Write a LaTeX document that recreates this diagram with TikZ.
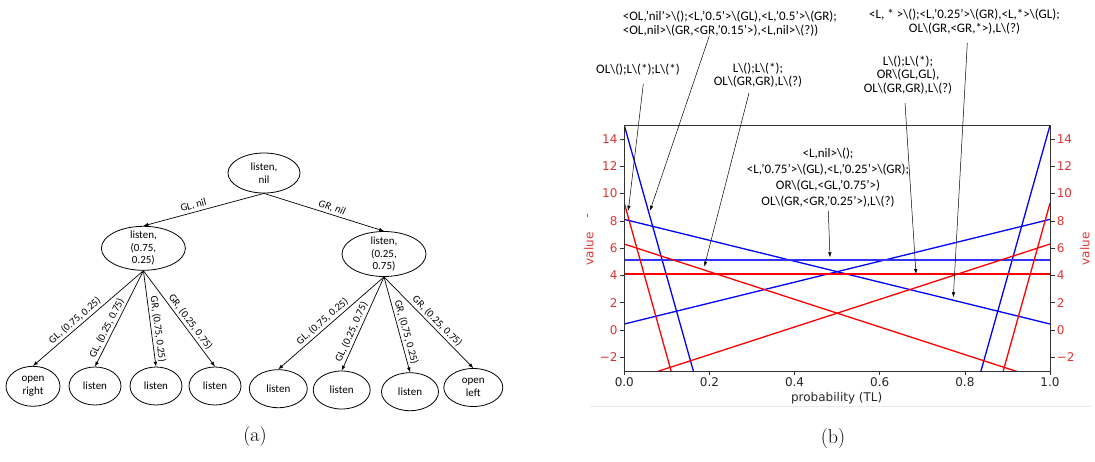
\documentclass[tikz,border=0pt]{standalone}
\usepackage{fontspec}
\usepackage{tikz}
\usepackage{xcolor}
\usetikzlibrary{shapes.geometric, arrows.meta}

\newfontfamily\treefont{Carlito}
\newfontfamily\plotfont{DejaVu Sans}
\newcommand{\bsl}{\textbackslash}
\definecolor{axisred}{RGB}{222,52,52}
\definecolor{axisgray}{RGB}{50,50,50}

\begin{document}
\begin{tikzpicture}[
        x=1pt, y=-1pt,
        declare function={
            probX(\p) = 624.3 + 425.7*\p;
            valY(\v) = 330 - 13.64*\v;
            openB(\x) = 15 - 111*\x;
            listenB(\x) = 8.11 - 7.67*\x;
            openR(\x) = 9.3 - 112*\x;
            listenR(\x) = 6.3 - 10.13*\x;
        },
        state/.style={ellipse, draw, line width=0.8pt, inner sep=-2pt, align=center,
            font=\treefont\fontsize{11}{12.5}\selectfont},
        leaf/.style={state, minimum width=52pt, minimum height=38pt},
        treearrow/.style={-latex, line width=0.7pt},
        elabel/.style={font=\treefont\fontsize{10.5}{12}\selectfont, sloped, above, pos=0.58, inner sep=2pt},
        note/.style={font=\treefont\fontsize{13}{13.5}\selectfont, align=center, inner sep=0pt},
        pointer/.style={-{Latex[length=5pt,width=3.5pt]}, line width=0.5pt},
        ticklabel/.style={font=\plotfont\fontsize{12}{13}\selectfont, inner sep=2pt},
        vline/.style={line width=1.3pt},
        caption/.style={font=\fontsize{20}{24}\selectfont},
    ]
    \useasboundingbox (0,0) rectangle (1095,461);

    % (a) the policy tree
    \node[state, minimum width=72pt, minimum height=40pt] (root) at (264,173) {listen,\\nil};
    \node[state, minimum width=84pt, minimum height=44pt] (lmid) at (143.4,248.3) {listen,\\(0.75,\\0.25)};
    \node[state, minimum width=84pt, minimum height=45pt] (rmid) at (384,254) {listen,\\(0.25,\\0.75)};

    \node[leaf, minimum width=54pt, minimum height=40pt] (l1) at (33,386.3) {open\\right};
    \node[leaf] (l2) at (95,386) {listen};
    \node[leaf] (l3) at (156,386) {listen};
    \node[leaf] (l4) at (215,386) {listen};
    \node[leaf, minimum width=58pt] (r1) at (278.3,388.7) {listen};
    \node[leaf, minimum width=57pt] (r2) at (341.7,390) {listen};
    \node[leaf, minimum width=57pt] (r3) at (410,391.7) {listen};
    \node[leaf, minimum width=59pt] (r4) at (473.3,387.5) {open\\left};

    \draw[treearrow] (root.south) -- node[elabel, pos=0.57] {GL, nil} (lmid.north);
    \draw[treearrow] (root.south) -- node[elabel, pos=0.55] {\itshape GR, nil} (rmid.north);

    \draw[treearrow] (lmid.south) -- node[elabel] {GL, (0.75, 0.25)} (l1.north);
    \draw[treearrow] (lmid.south) -- node[elabel, pos=0.63] {GL, (0.25, 0.75)} (l2.north);
    \draw[treearrow] (lmid.south) -- node[elabel, pos=0.62] {GR, (0.75, 0.25)} (l3.north);
    \draw[treearrow] (lmid.south) -- node[elabel] {GR, (0.25, 0.75)} (l4.north);

    \draw[treearrow] (rmid.south) -- node[elabel, pos=0.54] {GL, (0.75, 0.25)} (r1.north);
    \draw[treearrow] (rmid.south) -- node[elabel, pos=0.62] {GL, (0.25, 0.75)} (r2.north);
    \draw[treearrow] (rmid.south) -- node[elabel, pos=0.6] {GR, (0.75, 0.25)} (r3.north);
    \draw[treearrow] (rmid.south) -- node[elabel, pos=0.54] {GR, (0.25, 0.75)} (r4.north);

    \node[caption] (capa) at (255,437) {(a)};

    % (b) the value function
    \begin{scope}
        \clip ({probX(0)},{valY(-3)}) rectangle ({probX(1)},{valY(15)});
        \draw[domain=0:1, samples=2, variable=\x, blue, vline] plot ({probX(\x)}, {valY(openB(\x))});
        \draw[domain=0:1, samples=2, variable=\x, blue, vline] plot ({probX(\x)}, {valY(openB(1-\x))});
        \draw[domain=0:1, samples=2, variable=\x, blue, vline] plot ({probX(\x)}, {valY(listenB(\x))});
        \draw[domain=0:1, samples=2, variable=\x, blue, vline] plot ({probX(\x)}, {valY(listenB(1-\x))});
        \draw[blue!80, vline] ({probX(0)},{valY(5.13)}) -- ({probX(1)},{valY(5.13)});
        \draw[domain=0:1, samples=2, variable=\x, red, vline] plot ({probX(\x)}, {valY(openR(\x))});
        \draw[domain=0:1, samples=2, variable=\x, red, vline] plot ({probX(\x)}, {valY(openR(1-\x))});
        \draw[domain=0:1, samples=2, variable=\x, red, vline] plot ({probX(\x)}, {valY(listenR(\x))});
        \draw[domain=0:1, samples=2, variable=\x, red, vline] plot ({probX(\x)}, {valY(listenR(1-\x))});
        \draw[red, vline] ({probX(0)},{valY(4.1)}) -- ({probX(1)},{valY(4.1)});
    \end{scope}
    \draw[axisgray, line width=0.8pt] ({probX(0)},{valY(-3)}) rectangle ({probX(1)},{valY(15)});

    \foreach \v/\t in {-2/−2, 0/0, 2/2, 4/4, 6/6, 8/8, 10/10, 12/12, 14/14} {
        \draw[axisgray, line width=0.7pt] ({probX(0)},{valY(\v)}) -- ++(-4.5,0)
            node[left, ticklabel, text=axisred] {\t};
        \draw[axisgray, line width=0.7pt] ({probX(1)},{valY(\v)}) -- ++(4.5,0)
            node[right, ticklabel, text=axisred] {\t};
    }
    \foreach \p in {0.0,0.2,0.4,0.6,0.8,1.0} {
        \draw[axisgray, line width=0.7pt] ({probX(\p)},{valY(-3)}) -- ++(0,4.5)
            node[below, ticklabel, inner sep=1.5pt, text=black!85] {\p};
    }
    \node[ticklabel, text=black!85] (xlab) at (836.7,398.3) {probability (TL)};
    \node[ticklabel, text=axisred, rotate=90] (ylabL) at (589,249) {value};
    \node[ticklabel, text=axisred, rotate=90] (ylabR) at (1085,249) {value};
    \draw[axisred, line width=0.6pt] (587.5,213.5) -- (587.5,216.5);
    \draw[black!8, line width=0.5pt] (590,406.7) -- (1092,406.7);

    % annotations
    \node[note, align=left, anchor=west] (n1) at (622.7,23.5)
        {<OL,’nil’>\bsl();<L,’0.5’>\bsl(GL),<L,’0.5’>\bsl(GR);\\<OL,nil>\bsl(GR,<GR,’0.15’>),<L,nil>\bsl(?))};
    \node[note] (n2) at (638,69.5) {OL\bsl();L\bsl(*);L\bsl(*)};
    \node[note] (n3) at (758,75.3) {L\bsl();L\bsl(*);\\OL\bsl(GR,GR),L\bsl(?)};
    \node[note, font=\treefont\fontsize{13}{16}\selectfont] (n4) at (828,177.5)
        {<L,nil>\bsl();\\<L,’0.75’>\bsl(GL),<L,’0.25’>\bsl(GR);\\OR\bsl(GL,<GL,’0.75’>)\\OL\bsl(GR,<GR,’0.25’>),L\bsl(?)};
    \node[note] (n5) at (908,75) {L\bsl();L\bsl(*);\\OR\bsl(GL,GL),\\OL\bsl(GR,GR),L\bsl(?)};
    \node[note] (n6) at (964.5,21.7) {<L, * >\bsl();<L,’0.25’>\bsl(GR),<L,*>\bsl(GL);\\OL\bsl(GR,<GR,*>),L\bsl(?)};

    \coordinate (n1s) at (709.3,36);   \coordinate (n1t) at (650,210.7);
    \coordinate (n2s) at (643.3,84);   \coordinate (n2t) at (628.3,210.7);
    \coordinate (n3s) at (749,93);     \coordinate (n3t) at (704.3,266.7);
    \coordinate (n4s) at (828.3,211);  \coordinate (n4t) at (830,257.3);
    \coordinate (n5s) at (905,103);    \coordinate (n5t) at (916,274);
    \coordinate (n6s) at (967.3,43);   \coordinate (n6t) at (953.3,297.3);
    \draw[pointer] (n1s) -- (n1t);
    \draw[pointer] (n2s) -- (n2t);
    \draw[pointer] (n3s) -- (n3t);
    \draw[pointer] (n4s) -- (n4t);
    \draw[pointer] (n5s) -- (n5t);
    \draw[pointer] (n6s) -- (n6t);

    \node[caption] (capb) at (833,439) {(b)};
\end{tikzpicture}
\end{document}
